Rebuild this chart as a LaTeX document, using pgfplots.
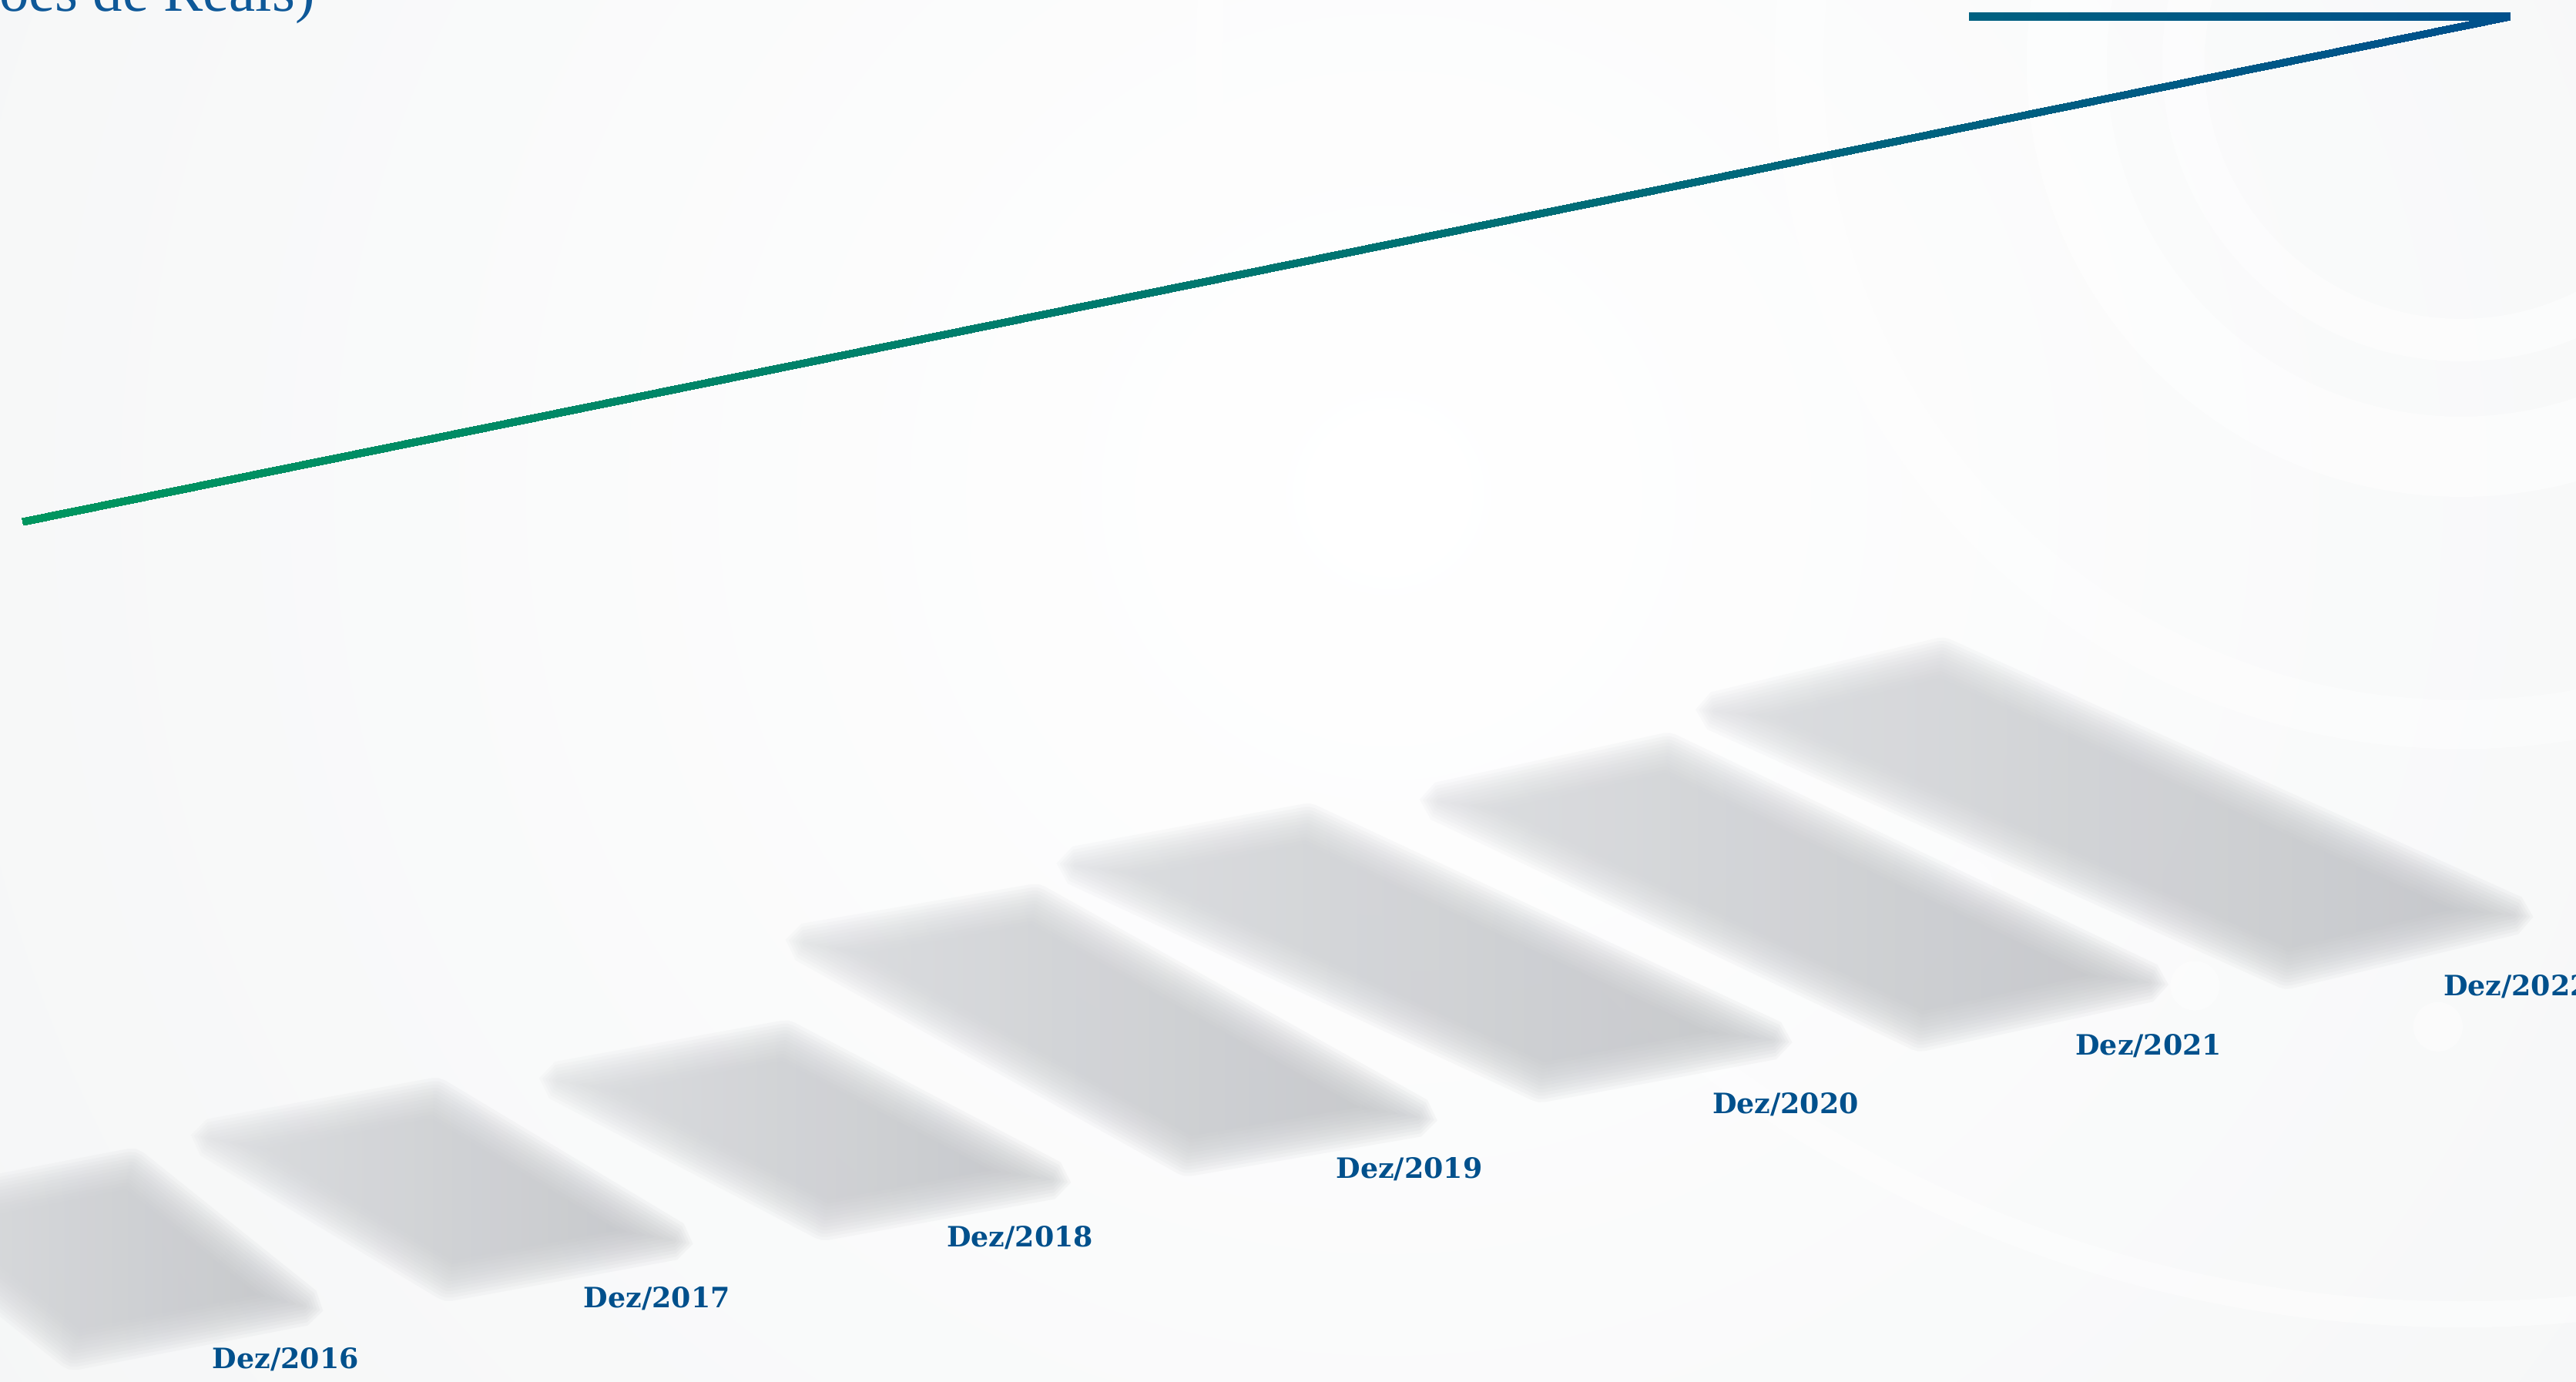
\documentclass[border=0pt]{standalone}
\usepackage{pgfplots}
\pgfplotsset{compat=1.18}
\usepackage{fontspec}
\newfontfamily\labfont{DejaVu Serif}
\newfontfamily\titfont{Liberation Serif}

\definecolor{bgc}{RGB}{238,240,241}
\definecolor{labblue}{RGB}{0,80,140}
\definecolor{titblue}{RGB}{14,88,152}
\definecolor{shL}{RGB}{214,216,219}
\definecolor{shR}{RGB}{188,190,194}

\tikzset{lab/.style={anchor=base west, inner sep=0pt, text=labblue,
                font=\labfont\bfseries\fontsize{9.7}{11}\selectfont}}

% ponto V + r*n acrescentado ao contorno da camada
\newcommand\shadd[4]{%
  \pgfmathsetmacro\shTx{#1+\rr*(#3)}%
  \pgfmathsetmacro\shTy{#2+\rr*(#4)}%
  \edef\shpts{\shpts (\shTx,\shTy)}%
}
\newcommand\shemit{%
  \edef\shcmd{\noexpand\addplot[draw=none, left color=shL, right color=shR,
     fill opacity=0.11] coordinates {\shpts} -- cycle;}%
  \shcmd
}
% cantos do paralelogramo deslocado de #1 px (negativo = para dentro)
\newcommand\shquad[1]{%
  \pgfmathsetmacro\shHa{\shLa/2+(#1)/\shSn}%
  \pgfmathsetmacro\shHb{\shLb/2+(#1)/\shSn}%
  \pgfmathsetmacro\qTLx{\shCx-\shHa*(\shUax)-\shHb*(\shUbx)}%
  \pgfmathsetmacro\qTLy{\shCy-\shHa*(\shUay)-\shHb*(\shUby)}%
  \pgfmathsetmacro\qPx{\shCx+\shHa*(\shUax)-\shHb*(\shUbx)}%
  \pgfmathsetmacro\qPy{\shCy+\shHa*(\shUay)-\shHb*(\shUby)}%
  \pgfmathsetmacro\qBRx{\shCx+\shHa*(\shUax)+\shHb*(\shUbx)}%
  \pgfmathsetmacro\qBRy{\shCy+\shHa*(\shUay)+\shHb*(\shUby)}%
  \pgfmathsetmacro\qBLx{\shCx-\shHa*(\shUax)+\shHb*(\shUbx)}%
  \pgfmathsetmacro\qBLy{\shCy-\shHa*(\shUay)+\shHb*(\shUby)}%
}
% camada interna (cantos vivos)
\newcommand\shsharp[1]{%
  \shquad{#1}\def\rr{0}\def\shpts{}%
  \shadd\qTLx\qTLy\ntx\nty \shadd\qPx\qPy\ntx\nty
  \shadd\qBRx\qBRy\ntx\nty \shadd\qBLx\qBLy\ntx\nty
  \shemit
}
% camada externa: contorno alargado de #1 px, cantos arredondados
\newcommand\shlayer[1]{%
  \def\rr{#1}\def\shpts{}%
  \shadd\qTLx\qTLy\nlx\nly \shadd\qTLx\qTLy\mAx\mAy \shadd\qTLx\qTLy\ntx\nty
  \shadd\qPx\qPy\ntx\nty \shadd\qPx\qPy\mPx\mPy \shadd\qPx\qPy\nrx\nry
  \shadd\qBRx\qBRy\nrx\nry \shadd\qBRx\qBRy\mCx\mCy \shadd\qBRx\qBRy\nbx\nby
  \shadd\qBLx\qBLy\nbx\nby \shadd\qBLx\qBLy\mDx\mDy \shadd\qBLx\qBLy\nlx\nly
  \shemit
}
% sombra: cantos superior esquerdo, topo, inferior direito (px)
\newcommand\shadowbar[6]{%
  \pgfmathsetmacro\shAx{#3-(#1)}\pgfmathsetmacro\shAy{#4-(#2)}%
  \pgfmathsetmacro\shBx{#5-(#3)}\pgfmathsetmacro\shBy{#6-(#4)}%
  \pgfmathsetmacro\shLa{veclen(\shAx,\shAy)}%
  \pgfmathsetmacro\shLb{veclen(\shBx,\shBy)}%
  \pgfmathsetmacro\shUax{\shAx/\shLa}\pgfmathsetmacro\shUay{\shAy/\shLa}%
  \pgfmathsetmacro\shUbx{\shBx/\shLb}\pgfmathsetmacro\shUby{\shBy/\shLb}%
  \pgfmathsetmacro\shCx{#1+(\shAx+\shBx)/2}%
  \pgfmathsetmacro\shCy{#2+(\shAy+\shBy)/2}%
  \pgfmathsetmacro\shSn{abs((\shUax)*(\shUby)-(\shUay)*(\shUbx))}%
  \pgfmathsetmacro\ntx{\shUay}\pgfmathsetmacro\nty{-(\shUax)}%
  \pgfmathsetmacro\nrx{\shUby}\pgfmathsetmacro\nry{-(\shUbx)}%
  \pgfmathsetmacro\nbx{-(\ntx)}\pgfmathsetmacro\nby{-(\nty)}%
  \pgfmathsetmacro\nlx{-(\nrx)}\pgfmathsetmacro\nly{-(\nry)}%
  \pgfmathsetmacro\shMl{veclen(\nlx+\ntx,\nly+\nty)}%
  \pgfmathsetmacro\mAx{(\nlx+\ntx)/\shMl}\pgfmathsetmacro\mAy{(\nly+\nty)/\shMl}%
  \pgfmathsetmacro\shMl{veclen(\ntx+\nrx,\nty+\nry)}%
  \pgfmathsetmacro\mPx{(\ntx+\nrx)/\shMl}\pgfmathsetmacro\mPy{(\nty+\nry)/\shMl}%
  \pgfmathsetmacro\mCx{-(\mAx)}\pgfmathsetmacro\mCy{-(\mAy)}%
  \pgfmathsetmacro\mDx{-(\mPx)}\pgfmathsetmacro\mDy{-(\mPy)}%
  \shsharp{-12}\shsharp{-10}\shsharp{-8}\shsharp{-6}\shsharp{-4}\shsharp{-2}%
  \shquad{0}%
  \shlayer{0}\shlayer{2}\shlayer{4}\shlayer{6}\shlayer{8}\shlayer{10}\shlayer{12}%
}

\begin{document}
\begin{tikzpicture}[x=0.2mm, y=0.2mm]
\useasboundingbox (0,0) rectangle (1568,841);
\clip (0,0) rectangle (1568,841);

% fundo
\fill[bgc] (0,0) rectangle (1568,841);
\shade[inner color=white, outer color=bgc] (845,541) circle[radius=1750];
\begin{scope}[white]
  \draw[line width=14.7pt, opacity=0.5] (1498,803) circle[radius=169];
  \draw[line width=27.8pt, opacity=0.5] (1498,803) circle[radius=240];
  \draw[line width=17pt, opacity=0.4] (1498,803) circle[radius=403];
  \draw[line width=9pt, opacity=0.45] (1498,803) circle[radius=762];
  \fill[opacity=0.45] (1198,303) circle[radius=15];
  \fill[opacity=0.45] (1336,241) circle[radius=15];
  \fill[opacity=0.45] (1484,216) circle[radius=15];
\end{scope}

\begin{axis}[
    at={(0,0)}, anchor=south west,
    scale only axis,
    width=313.6mm, height=168.2mm,
    xmin=0, xmax=1568, ymin=0, ymax=841,
    y dir=reverse,
    hide axis,
    colormap={verdeazul}{rgb255=(0,150,95) rgb255=(0,118,112) rgb255=(0,80,140)},
]

\shadowbar{-60}{738}{80}{711}{185}{795}
\shadowbar{128}{693}{265}{668}{410}{755}
\shadowbar{340}{658}{478}{633}{640}{718}
\shadowbar{490}{574}{630}{550}{863}{680}
\shadowbar{655}{527}{796}{501}{1079}{633}
\shadowbar{876}{488}{1015}{458}{1308}{598}
\shadowbar{1044}{433}{1182}{400}{1530}{557}

% linha de tendencia (faixa com degrade verde -> azul)
\addplot[patch, shader=interp, point meta=explicit,
         point meta min=13.4, point meta max=1528] table[meta=c] {
x      y     c
13.2   315.0 13.2
1528   7.5   1528
1528   12.2  1528
13.2   315.0 13.2
1528   12.2  1528
14.1   319.7 14.1
1198.5 7.5   1198.5
1528   7.5   1528
1528   12.2  1528
1198.5 7.5   1198.5
1528   12.2  1528
1198.5 12.2  1198.5
};

\node[lab] at (axis cs:129,833) {Dez/2016};
\node[lab] at (axis cs:355,796) {Dez/2017};
\node[lab] at (axis cs:576,759) {Dez/2018};
\node[lab] at (axis cs:813,717) {Dez/2019};
\node[lab] at (axis cs:1042,678) {Dez/2020};
\node[lab] at (axis cs:1263,642) {Dez/2021};
\node[lab] at (axis cs:1487,606) {Dez/2022};

\node[anchor=base east, inner sep=0pt, text=titblue,
      font=\titfont\fontsize{20.5}{24}\selectfont] at (axis cs:192,7) {(Em Milhões de Reais)};
\end{axis}
\end{tikzpicture}
\end{document}
